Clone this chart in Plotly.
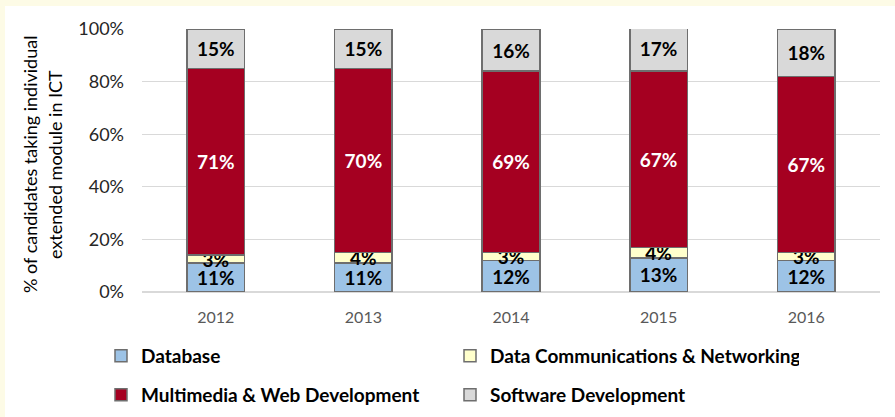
import plotly.graph_objects as go

years = ["2012", "2013", "2014", "2015", "2016"]
database = [11, 11, 12, 13, 12]
data_comm = [3, 4, 3, 4, 3]
multimedia = [71, 70, 69, 67, 67]
software = [15, 15, 16, 17, 18]
y_ticks = [0, 20, 40, 60, 80, 100]
y_tick_labels = ["0%", "20%", "40%", "60%", "80%", "100%"]
title_lines = ["% of candidates taking individual", "extended module in ICT"]

series = [
    ("Database", database, "#9DC3E6", "black", "legend"),
    ("Data Communications & Networking", data_comm, "#FFFFCC", "black", "legend"),
    ("Multimedia & Web Development", multimedia, "#A50021", "white", "legend2"),
    ("Software Development", software, "#D9D9D9", "black", "legend2"),
]

W, H = 895, 417
L, R, T, B = 142, 15, 29, 125
PW, PH = W - L - R, H - T - B


def px_x(p):
    return (p - L) / PW


def px_y(p):
    return (H - B - p) / PH


fig = go.Figure()
for name, vals, color, tcol, leg in series:
    fig.add_trace(go.Bar(
        x=years, y=vals, name=name,
        marker=dict(color=color, line=dict(color="#6E6E6E", width=1.5)),
        text=[f"{v}%" for v in vals],
        textposition="inside", insidetextanchor="middle",
        textfont=dict(family="Lato", size=19, color=tcol, weight="bold"),
        legend=leg,
    ))

legend_common = dict(
    orientation="h", xanchor="left", yanchor="middle", traceorder="normal",
    x=px_x(101), entrywidth=304, entrywidthmode="pixels",
    font=dict(family="Lato", size=19, color="black", weight="bold"),
    bgcolor="rgba(0,0,0,0)", itemwidth=30,
)

annotations = [
    dict(text=title_lines[0], xref="paper", yref="paper", x=px_x(30), y=px_y(165),
         textangle=-90, showarrow=False, xanchor="center", yanchor="middle",
         font=dict(family="Lato", size=18, color="black")),
    dict(text=title_lines[1], xref="paper", yref="paper", x=px_x(55), y=px_y(165),
         textangle=-90, showarrow=False, xanchor="center", yanchor="middle",
         font=dict(family="Lato", size=18, color="black")),
]

fig.update_layout(
    width=W, height=H,
    barmode="stack", bargap=0.61,
    paper_bgcolor="#FDFBE6", plot_bgcolor="white",
    margin=dict(l=L, r=R, t=T, b=B, autoexpand=False),
    uniformtext=dict(minsize=19, mode="show"),
    showlegend=True,
    legend=dict(legend_common, y=px_y(356)),
    legend2=dict(legend_common, y=px_y(395)),
    xaxis=dict(
        tickfont=dict(family="Lato", size=16, color="#595959"),
        showline=False, ticks="", automargin=False, ticklabelstandoff=14,
    ),
    yaxis=dict(
        range=[0, 100], tickvals=y_ticks, ticktext=y_tick_labels,
        tickfont=dict(family="Lato", size=18, color="#262626"),
        gridcolor="#D9D9D9", gridwidth=1, zeroline=True, zerolinecolor="#D9D9D9",
        showline=False, ticks="", ticklen=0, automargin=False, ticklabelstandoff=17,
    ),
    annotations=annotations,
    shapes=[dict(type="rect", xref="paper", yref="paper",
                 x0=px_x(5), x1=px_x(900), y0=px_y(420), y1=px_y(6),
                 fillcolor="white", line=dict(width=0), layer="below")],
)

fig.write_html("out.html", config={"displayModeBar": False},
               post_script="document.body.style.margin='0';document.body.style.overflow='hidden';")
